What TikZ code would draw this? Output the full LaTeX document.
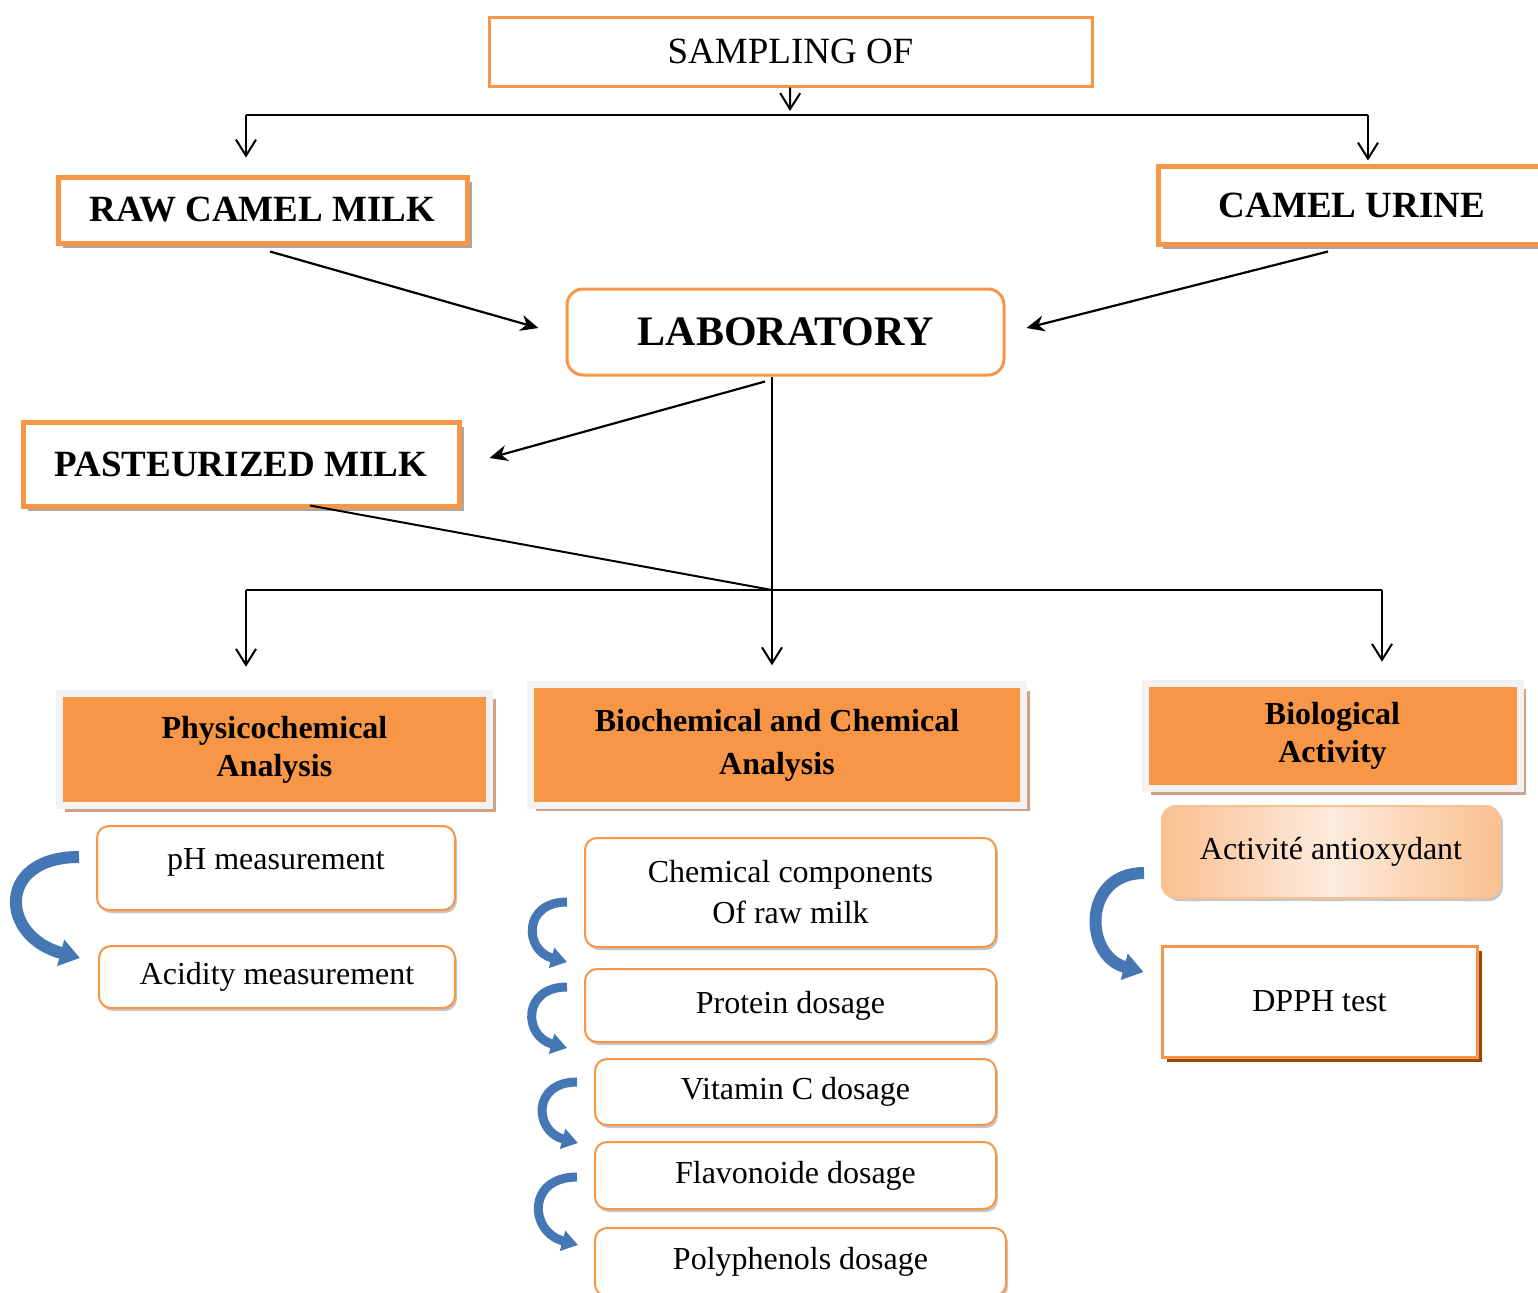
\documentclass[tikz,border=0pt]{standalone}
\usepackage{fontspec}
\setmainfont{Liberation Serif}
\usepackage{xcolor}
\usetikzlibrary{arrows.meta,positioning,shadows,calc}

\definecolor{boxorange}{HTML}{F79646}
\definecolor{framegray}{HTML}{F2F2F2}
\definecolor{tanshadow}{HTML}{CFA283}
\definecolor{peachdark}{HTML}{FAC090}
\definecolor{peachlight}{HTML}{FDEBDD}
\definecolor{brownshadow}{HTML}{984807}
\definecolor{curlblue}{HTML}{4677B5}

\begin{document}
\begin{tikzpicture}[
  x=0.5pt, y=-0.5pt,
  plainbox/.style={rectangle, draw=boxorange, line width=1.5pt, fill=white, font=\fontsize{18.5}{22}\selectfont},
  title/.style={rectangle, draw=boxorange, line width=2.5pt, fill=white, font=\fontsize{18.5}{22}\selectfont\bfseries,
    drop shadow={shadow xshift=2.5pt, shadow yshift=-2.5pt, fill=gray!70, opacity=1}},
  labbox/.style={rectangle, rounded corners=8pt, draw=boxorange, line width=1.5pt, fill=white, font=\fontsize{21}{25}\selectfont\bfseries},
  header/.style={rectangle, fill=boxorange, draw=framegray, line width=3.5pt, align=center, font=\fontsize{16}{19}\selectfont\bfseries,
    drop shadow={shadow xshift=3pt, shadow yshift=-3pt, fill=tanshadow, opacity=1}},
  leaf/.style={rectangle, rounded corners=6pt, draw=boxorange, line width=1pt, fill=white, align=center, font=\fontsize{16}{20.5}\selectfont,
    drop shadow={shadow xshift=1pt, shadow yshift=-1.5pt, fill=gray!45, opacity=1}},
  gradbox/.style={rectangle, rounded corners=7pt, draw=peachdark, line width=1pt, left color=peachdark, right color=peachdark, middle color=peachlight,
    font=\fontsize{16}{20}\selectfont, drop shadow={shadow xshift=1.5pt, shadow yshift=-1.5pt, fill=gray!45, opacity=1}},
  dpphbox/.style={rectangle, draw=boxorange, line width=1.5pt, fill=white, font=\fontsize{16}{20}\selectfont,
    drop shadow={shadow xshift=2.5pt, shadow yshift=-2.5pt, fill=brownshadow, opacity=1}},
  link/.style={line width=1pt},
  openarrow/.style={line width=1pt, -{Straight Barb[length=8pt, width=10pt]}},
  solidarrow/.style={line width=1.1pt, -{Stealth[length=9pt, width=8pt]}},
  curl/.style={curlblue, line width=4.5pt, -{Triangle[length=8pt, width=10pt]}},
  bigcurl/.style={curlblue, line width=6pt, -{Triangle[length=10pt, width=13pt]}}
]
\useasboundingbox (0,0) rectangle (1538,1292);

\node[plainbox, minimum width=301.5pt, minimum height=34.5pt] (sampling) at (790.5,51.5) {SAMPLING OF};
\node[title, minimum width=204.5pt, minimum height=33pt] (raw) at (262.5,210) {RAW CAMEL MILK};
\node[title, minimum width=194pt, minimum height=39pt] (urine) at (1352,205) {CAMEL URINE};
\node[labbox, minimum width=218.5pt, minimum height=43pt] (lab) at (785.5,332) {LABORATORY};
\node[title, minimum width=218pt, minimum height=42pt] (pasteur) at (241,464) {PASTEURIZED MILK};

\node[header, minimum width=215.25pt, minimum height=56.25pt] (physico) at (274.5,749.5) {Physicochemical\\Analysis};
\node[header, minimum width=246.75pt, minimum height=60.25pt, font=\fontsize{16}{21.5}\selectfont\bfseries] (biochem) at (777,745) {Biochemical and Chemical\\Analysis};
\node[header, minimum width=187.5pt, minimum height=52.75pt] (biolog) at (1332.5,736) {Biological\\Activity};

\node[leaf, minimum width=179pt, minimum height=42pt, text depth=9pt] (ph) at (276,868) {pH measurement};
\node[leaf, minimum width=178pt, minimum height=31pt] (acid) at (277,977) {Acidity measurement};
\node[leaf, minimum width=205.5pt, minimum height=54.5pt] (chem) at (790.5,892.5) {Chemical components\\Of raw milk};
\node[leaf, minimum width=205.5pt, minimum height=36.5pt] (prot) at (790.5,1005.5) {Protein dosage};
\node[leaf, minimum width=200.5pt, minimum height=33pt] (vitc) at (795.5,1092) {Vitamin C dosage};
\node[leaf, minimum width=200.5pt, minimum height=33.5pt] (flav) at (795.5,1175.5) {Flavonoide dosage};
\node[leaf, minimum width=205.5pt, minimum height=34pt] (poly) at (800.5,1262) {Polyphenols dosage};
\node[gradbox, minimum width=169pt, minimum height=46pt] (antiox) at (1331,852) {Activité antioxydant};
\node[dpphbox, minimum width=157.5pt, minimum height=55.5pt] (dpph) at (1319.5,1001.5) {DPPH test};

\coordinate (topsplit) at (790,115);
\coordinate (topleft) at (246,115);
\coordinate (topright) at (1368,115);
\draw[openarrow, shorten >=2pt] (sampling) -- (topsplit);
\draw[link] (topleft) -- (topright);
\draw[openarrow, shorten >=8.5pt] (topleft) -- (topleft |- raw.north);
\draw[openarrow, shorten >=1.5pt] (topright) -- (topright |- urine.north);

\draw[solidarrow] ($(raw.south)+(7.5,6)$) -- ($(lab.west)+(-27,-4)$);
\draw[solidarrow] ($(urine.south)+(-24,5)$) -- ($(lab.east)+(21,-4)$);
\draw[solidarrow] ($(lab.south)+(-20.5,5)$) -- ($(pasteur.east)+(28,-6)$);

\coordinate (split) at (772,590);
\coordinate (botleft) at (246,590);
\coordinate (botright) at (1382,590);
\draw[link] (split |- lab.south) -- (split);
\draw[link] ($(pasteur.south)+(69,-3)$) -- (split);
\draw[link] (botleft) -- (botright);
\draw[openarrow, shorten >=11.5pt] (botleft) -- (botleft |- physico.north);
\draw[openarrow, shorten >=8pt] (split) -- (split |- biochem.north);
\draw[openarrow, shorten >=9pt] (botright) -- (botright |- biolog.north);

\draw[bigcurl] ($(ph.west)+(-17,-11)$) to[out=180, in=165, looseness=2.1] ($(acid.west)+(-18,-19)$);
\draw[curl] ($(chem.west)+(-17,9.5)$) to[out=180, in=165, looseness=1.9] ($(prot.west)+(-17,-43.5)$);
\draw[curl] ($(prot.west)+(-17,-18.5)$) to[out=180, in=165, looseness=1.9] ($(vitc.west)+(-27,-44)$);
\draw[curl] ($(vitc.west)+(-17,-10)$) to[out=180, in=165, looseness=1.9] ($(flav.west)+(-16,-32.5)$);
\draw[curl] ($(flav.west)+(-17,1.5)$) to[out=180, in=165, looseness=1.9] ($(poly.west)+(-16,-17)$);
\draw[bigcurl] ($(antiox.west)+(-17,21)$) to[out=180, in=165, looseness=1.6] ($(dpph.west)+(-17,-29.5)$);

\end{tikzpicture}
\end{document}
